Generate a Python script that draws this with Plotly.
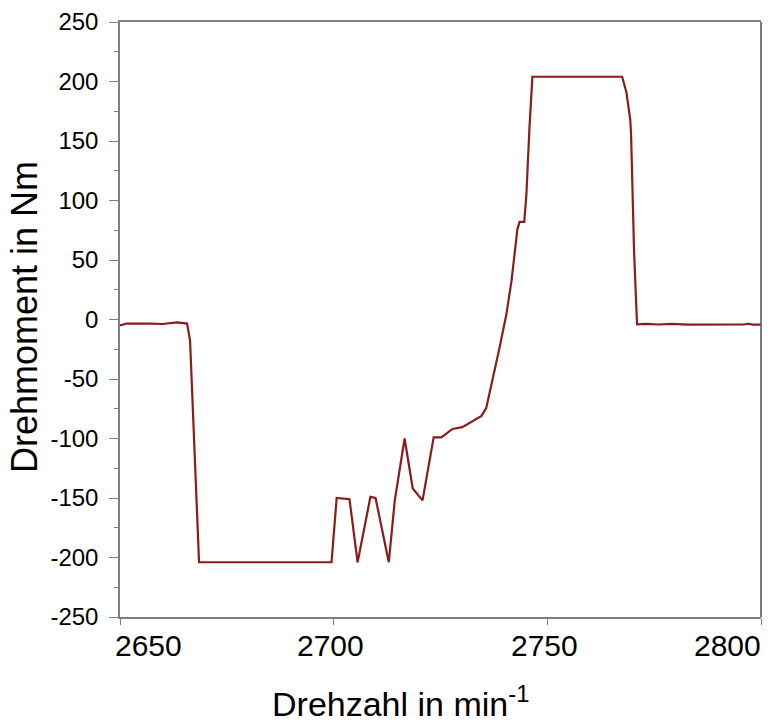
import plotly.graph_objects as go

# Drehzahl (min^-1) and Drehmoment (Nm)
drehzahl = [2650.0, 2651.6, 2657.0, 2660.0, 2663.3, 2665.7, 2666.4, 2668.5,
            2699.5, 2700.7, 2703.7, 2705.6, 2708.6, 2709.8, 2712.9, 2714.3,
            2716.6, 2718.5, 2720.8, 2723.4, 2725.2, 2727.8, 2730.1, 2733.4,
            2734.6, 2735.7, 2737.1, 2738.8, 2740.4, 2741.6, 2743.0, 2743.5,
            2744.6, 2745.1, 2745.8, 2746.5, 2767.5, 2768.5, 2769.4, 2769.6,
            2769.9, 2770.3, 2770.8, 2771.0, 2773.0, 2776.0, 2779.0, 2781.0,
            2783.0, 2796.0, 2797.0, 2798.0, 2800.0]
drehmoment = [-5.0, -3.4, -3.4, -3.8, -2.5, -3.4, -18.0, -204.0,
              -204.0, -150.0, -151.0, -204.0, -149.0, -150.0, -204.0, -152.0,
              -100.0, -142.0, -152.0, -99.0, -99.0, -92.0, -90.5, -83.8,
              -81.0, -74.5, -52.0, -24.0, 4.0, 32.0, 76.0, 82.0,
              82.0, 105.0, 160.0, 204.0, 204.0, 191.0, 168.0, 155.0,
              113.0, 57.0, 12.6, -4.0, -3.6, -4.2, -3.6, -3.7,
              -4.3, -4.2, -3.6, -4.3, -4.3]

x_tick_vals = [2650, 2700, 2750, 2800]
x_tick_text = ["2650", "2700", "2750", "2800"]
y_tick_vals = [-250, -200, -150, -100, -50, 0, 50, 100, 150, 200, 250]
y_tick_text = ["-250", "-200", "-150", "-100", "-50", "0", "50", "100", "150", "200", "250"]

FONT = "Arial, Liberation Sans, sans-serif"
AXIS_COLOR = "#808080"

fig = go.Figure()
fig.add_trace(go.Scatter(
    x=drehzahl, y=drehmoment, mode="lines",
    line=dict(color="#8a1c1c", width=2.2),
    showlegend=False, hoverinfo="x+y",
))

fig.update_layout(
    width=769, height=722,
    margin=dict(l=120, r=8, t=20, b=105),
    paper_bgcolor="white", plot_bgcolor="white",
    font=dict(family=FONT, color="black"),
    xaxis=dict(
        range=[2650, 2800], tickvals=x_tick_vals, showticklabels=False,
        ticks="outside", ticklen=6, tickcolor=AXIS_COLOR, tickwidth=1,
        showline=True, linecolor=AXIS_COLOR, linewidth=1.5, mirror=True,
        showgrid=False, zeroline=False,
    ),
    yaxis=dict(
        range=[-250, 250], tickvals=y_tick_vals, ticktext=y_tick_text,
        ticks="outside", ticklen=9, tickcolor=AXIS_COLOR, tickwidth=1,
        ticklabelstandoff=6,
        tickfont=dict(size=24, family=FONT, color="black"),
        showline=True, linecolor=AXIS_COLOR, linewidth=1.5, mirror=False,
        showgrid=False, zeroline=False,
        minor=dict(dtick=25, tick0=0, ticks="outside", ticklen=4,
                   tickcolor=AXIS_COLOR, tickwidth=1),
    ),
)

# right frame line (darker)
fig.add_shape(type="line", xref="paper", yref="paper", x0=1, x1=1, y0=0, y1=1,
              line=dict(color="#505050", width=1.5))

# x tick labels (end labels kept inside the frame, as in the reference)
for i, (v, t) in enumerate(zip(x_tick_vals, x_tick_text)):
    if i == 0:
        anchor, shift = "left", -7
    elif i == len(x_tick_vals) - 1:
        anchor, shift = "right", 2
    else:
        anchor, shift = "center", -3
    fig.add_annotation(x=v, xref="x", y=0, yref="paper", yanchor="top",
                       xanchor=anchor, xshift=shift, yshift=-10,
                       text=t, showarrow=False,
                       font=dict(size=30, family=FONT, color="black"))

# axis titles
fig.add_annotation(x=(400 - 120) / 641, xref="paper", y=(617 - 702) / 597, yref="paper",
                   xanchor="center", yanchor="middle", showarrow=False,
                   text="Drehzahl in min<sup>-1</sup>",
                   font=dict(size=34, family=FONT, color="black"))
fig.add_annotation(x=(24 - 120) / 641, xref="paper", y=(617 - 316) / 597, yref="paper",
                   xanchor="center", yanchor="middle", showarrow=False, textangle=-90,
                   text="Drehmoment in Nm",
                   font=dict(size=36, family=FONT, color="black"))

fig.write_html("out.html")
